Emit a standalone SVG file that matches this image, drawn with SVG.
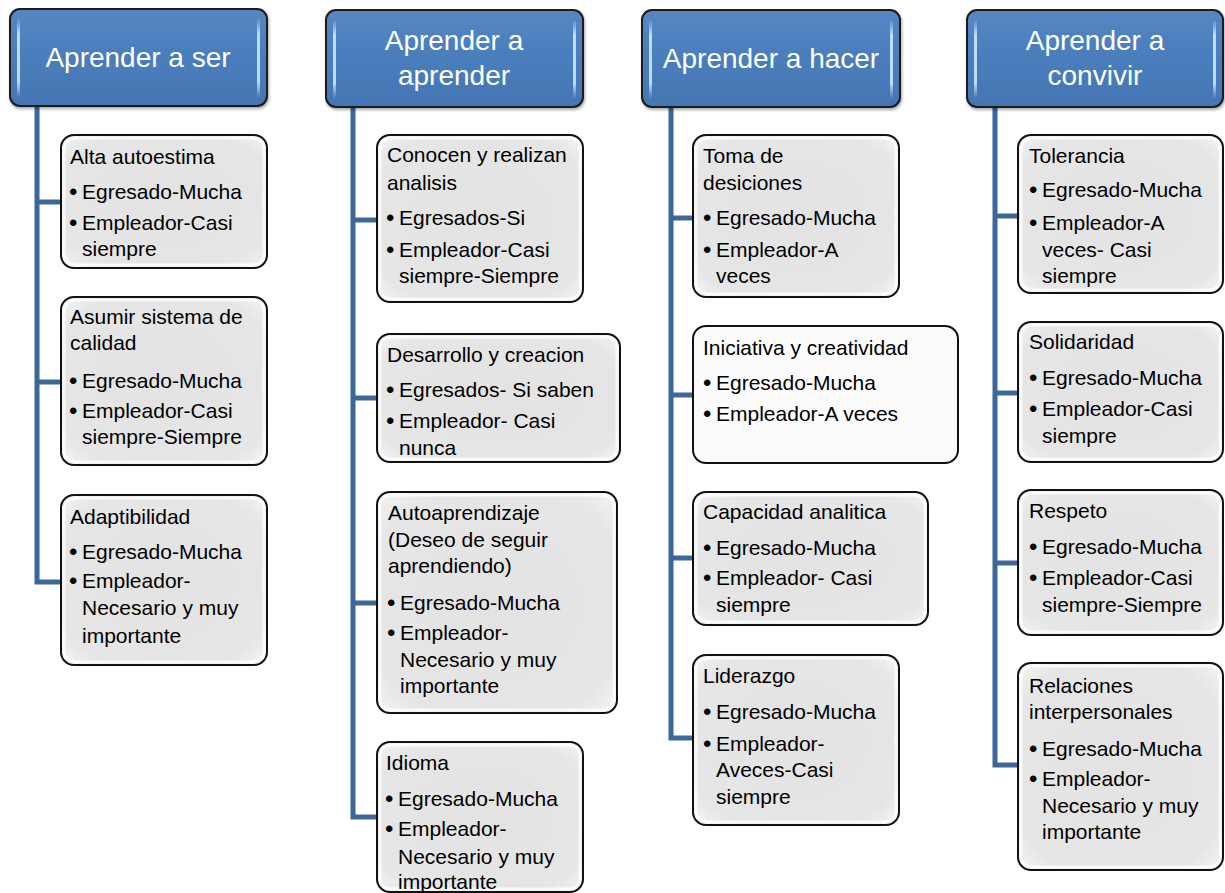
<svg xmlns="http://www.w3.org/2000/svg" width="1225" height="893" viewBox="0 0 1225 893">
<defs>
<linearGradient id="hg" x1="0" y1="0" x2="0" y2="1">
<stop offset="0" stop-color="#5587c4"/>
<stop offset="0.5" stop-color="#4a7dbb"/>
<stop offset="1" stop-color="#4476b4"/>
</linearGradient>
<linearGradient id="strip" x1="0" y1="0" x2="0" y2="1">
<stop offset="0" stop-color="#c9e6fb" stop-opacity="0"/>
<stop offset="0.2" stop-color="#c9e6fb" stop-opacity="0.9"/>
<stop offset="0.8" stop-color="#c9e6fb" stop-opacity="0.9"/>
<stop offset="1" stop-color="#c9e6fb" stop-opacity="0"/>
</linearGradient>
<radialGradient id="bg" cx="0.5" cy="0.5" r="0.7">
<stop offset="0" stop-color="#e3e3e3"/>
<stop offset="0.8" stop-color="#e6e6e6"/>
<stop offset="1" stop-color="#f4f4f4"/>
</radialGradient>
<filter id="sh" x="-10%" y="-10%" width="125%" height="130%">
<feDropShadow dx="1" dy="2" stdDeviation="1.5" flood-color="#000" flood-opacity="0.35"/>
</filter>
</defs>
<style>
.hdr{fill:url(#hg);stroke:#1a1a1a;stroke-width:2}
.hs{fill:url(#strip)}
.ht{font-family:"Liberation Sans",Arial,sans-serif;font-size:28px;fill:#ffffff;text-anchor:middle}
.box{fill:url(#bg);stroke:#111;stroke-width:2}
.boxw{fill:#fbfbfb;stroke:#111;stroke-width:2}
.inner{fill:none;stroke:#ffffff;stroke-width:3;stroke-opacity:0.75}
.t{font-family:"Liberation Sans",Arial,sans-serif;font-size:21px;fill:#000}
.b{font-family:"Liberation Sans",Arial,sans-serif;font-size:24px;fill:#000}
.con{fill:none;stroke:#3d6699;stroke-width:5;stroke-linejoin:miter}
</style>

<g id="connectors">
<path class="con" d="M37,106 V582 H61 M37,202 H61 M37,382 H61"/>
<path class="con" d="M353,107 V817 H377 M353,220 H377 M353,398 H377 M353,603 H377"/>
<path class="con" d="M671,107 V738 H693 M671,218 H693 M671,395 H693 M671,558 H693"/>
<path class="con" d="M995,107 V765 H1018 M995,216 H1018 M995,393 H1018 M995,563 H1018"/>
</g>

<g id="h1">
<rect class="hdr" x="10" y="9" width="257" height="97" rx="10" filter="url(#sh)"/>
<rect class="hs" x="17" y="18" width="3" height="80" rx="1.5"/>
<rect class="hs" x="257" y="18" width="3" height="80" rx="1.5"/>
<text class="ht" x="138" y="67">Aprender a ser</text>
</g>
<g id="h2">
<rect class="hdr" x="326" y="10" width="257" height="97" rx="10" filter="url(#sh)"/>
<rect class="hs" x="333" y="19" width="3" height="80" rx="1.5"/>
<rect class="hs" x="573" y="19" width="3" height="80" rx="1.5"/>
<text class="ht" x="454" y="50">Aprender a</text>
<text class="ht" x="454" y="85">aprender</text>
</g>
<g id="h3">
<rect class="hdr" x="642" y="10" width="258" height="97" rx="10" filter="url(#sh)"/>
<rect class="hs" x="649" y="19" width="3" height="80" rx="1.5"/>
<rect class="hs" x="890" y="19" width="3" height="80" rx="1.5"/>
<text class="ht" x="771" y="68">Aprender a hacer</text>
</g>
<g id="h4">
<rect class="hdr" x="967" y="10" width="256" height="97" rx="10" filter="url(#sh)"/>
<rect class="hs" x="974" y="19" width="3" height="80" rx="1.5"/>
<rect class="hs" x="1213" y="19" width="3" height="80" rx="1.5"/>
<text class="ht" x="1095" y="50">Aprender a</text>
<text class="ht" x="1095" y="85">convivir</text>
</g>

<!-- Column 1 -->
<g id="n1a">
<rect class="box" x="61" y="135" width="206" height="133" rx="13"/>
<rect class="inner" x="64" y="138" width="200" height="127" rx="11"/>
<text class="t" x="70" y="164">Alta autoestima</text>
<text class="b" x="69" y="200">•</text><text class="t" x="82" y="199">Egresado-Mucha</text>
<text class="b" x="69" y="231">•</text><text class="t" x="82" y="230">Empleador-Casi</text>
<text class="t" x="82" y="256">siempre</text>
</g>
<g id="n1b">
<rect class="box" x="61" y="297" width="206" height="168" rx="13"/>
<rect class="inner" x="64" y="300" width="200" height="162" rx="11"/>
<text class="t" x="70" y="324">Asumir sistema de</text>
<text class="t" x="70" y="350">calidad</text>
<text class="b" x="69" y="389">•</text><text class="t" x="82" y="388">Egresado-Mucha</text>
<text class="b" x="69" y="419">•</text><text class="t" x="82" y="418">Empleador-Casi</text>
<text class="t" x="82" y="444">siempre-Siempre</text>
</g>
<g id="n1c">
<rect class="box" x="61" y="495" width="206" height="170" rx="13"/>
<rect class="inner" x="64" y="498" width="200" height="164" rx="11"/>
<text class="t" x="70" y="524">Adaptibilidad</text>
<text class="b" x="69" y="560">•</text><text class="t" x="82" y="559">Egresado-Mucha</text>
<text class="b" x="69" y="589">•</text><text class="t" x="82" y="588">Empleador-</text>
<text class="t" x="82" y="615">Necesario y muy</text>
<text class="t" x="82" y="643">importante</text>
</g>

<!-- Column 2 -->
<g id="n2a">
<rect class="box" x="377" y="135" width="206" height="167" rx="13"/>
<rect class="inner" x="380" y="138" width="200" height="161" rx="11"/>
<text class="t" x="387" y="162">Conocen y realizan</text>
<text class="t" x="387" y="190">analisis</text>
<text class="b" x="386" y="226">•</text><text class="t" x="399" y="225">Egresados-Si</text>
<text class="b" x="386" y="258">•</text><text class="t" x="399" y="257">Empleador-Casi</text>
<text class="t" x="399" y="283">siempre-Siempre</text>
</g>
<g id="n2b">
<rect class="box" x="377" y="334" width="243" height="128" rx="13"/>
<rect class="inner" x="380" y="337" width="237" height="122" rx="11"/>
<text class="t" x="387" y="362">Desarrollo y creacion</text>
<text class="b" x="386" y="398">•</text><text class="t" x="399" y="397">Egresados- Si saben</text>
<text class="b" x="386" y="429">•</text><text class="t" x="399" y="428">Empleador- Casi</text>
<text class="t" x="399" y="455">nunca</text>
</g>
<g id="n2c">
<rect class="box" x="377" y="492" width="240" height="221" rx="13"/>
<rect class="inner" x="380" y="495" width="234" height="215" rx="11"/>
<text class="t" x="388" y="520">Autoaprendizaje</text>
<text class="t" x="388" y="547">(Deseo de seguir</text>
<text class="t" x="388" y="573">aprendiendo)</text>
<text class="b" x="387" y="611">•</text><text class="t" x="400" y="610">Egresado-Mucha</text>
<text class="b" x="387" y="641">•</text><text class="t" x="400" y="640">Empleador-</text>
<text class="t" x="400" y="667">Necesario y muy</text>
<text class="t" x="400" y="693">importante</text>
</g>
<g id="n2d">
<rect class="box" x="377" y="742" width="206" height="150" rx="13"/>
<rect class="inner" x="380" y="745" width="200" height="144" rx="11"/>
<text class="t" x="386" y="770">Idioma</text>
<text class="b" x="385" y="807">•</text><text class="t" x="398" y="806">Egresado-Mucha</text>
<text class="b" x="385" y="837">•</text><text class="t" x="398" y="836">Empleador-</text>
<text class="t" x="398" y="864">Necesario y muy</text>
<text class="t" x="398" y="889">importante</text>
</g>

<!-- Column 3 -->
<g id="n3a">
<rect class="box" x="693" y="135" width="206" height="162" rx="13"/>
<rect class="inner" x="696" y="138" width="200" height="156" rx="11"/>
<text class="t" x="703" y="163">Toma de</text>
<text class="t" x="703" y="190">desiciones</text>
<text class="b" x="703" y="226">•</text><text class="t" x="716" y="225">Egresado-Mucha</text>
<text class="b" x="703" y="258">•</text><text class="t" x="716" y="257">Empleador-A</text>
<text class="t" x="716" y="283">veces</text>
</g>
<g id="n3b">
<rect class="boxw" x="693" y="326" width="265" height="137" rx="13"/>
<text class="t" x="703" y="355">Iniciativa y creatividad</text>
<text class="b" x="703" y="391">•</text><text class="t" x="716" y="390">Egresado-Mucha</text>
<text class="b" x="703" y="422">•</text><text class="t" x="716" y="421">Empleador-A veces</text>
</g>
<g id="n3c">
<rect class="box" x="693" y="492" width="235" height="133" rx="13"/>
<rect class="inner" x="696" y="495" width="229" height="127" rx="11"/>
<text class="t" x="703" y="519">Capacidad analitica</text>
<text class="b" x="703" y="556">•</text><text class="t" x="716" y="555">Egresado-Mucha</text>
<text class="b" x="703" y="586">•</text><text class="t" x="716" y="585">Empleador- Casi</text>
<text class="t" x="716" y="612">siempre</text>
</g>
<g id="n3d">
<rect class="box" x="693" y="655" width="206" height="170" rx="13"/>
<rect class="inner" x="696" y="658" width="200" height="164" rx="11"/>
<text class="t" x="703" y="683">Liderazgo</text>
<text class="b" x="703" y="720">•</text><text class="t" x="716" y="719">Egresado-Mucha</text>
<text class="b" x="703" y="752">•</text><text class="t" x="716" y="751">Empleador-</text>
<text class="t" x="716" y="777">Aveces-Casi</text>
<text class="t" x="716" y="804">siempre</text>
</g>

<!-- Column 4 -->
<g id="n4a">
<rect class="box" x="1018" y="135" width="205" height="158" rx="13"/>
<rect class="inner" x="1021" y="138" width="199" height="152" rx="11"/>
<text class="t" x="1029" y="163">Tolerancia</text>
<text class="b" x="1029" y="198">•</text><text class="t" x="1042" y="197">Egresado-Mucha</text>
<text class="b" x="1029" y="231">•</text><text class="t" x="1042" y="230">Empleador-A</text>
<text class="t" x="1042" y="257">veces- Casi</text>
<text class="t" x="1042" y="283">siempre</text>
</g>
<g id="n4b">
<rect class="box" x="1018" y="322" width="205" height="140" rx="13"/>
<rect class="inner" x="1021" y="325" width="199" height="134" rx="11"/>
<text class="t" x="1029" y="349">Solidaridad</text>
<text class="b" x="1029" y="386">•</text><text class="t" x="1042" y="385">Egresado-Mucha</text>
<text class="b" x="1029" y="417">•</text><text class="t" x="1042" y="416">Empleador-Casi</text>
<text class="t" x="1042" y="443">siempre</text>
</g>
<g id="n4c">
<rect class="box" x="1018" y="490" width="205" height="145" rx="13"/>
<rect class="inner" x="1021" y="493" width="199" height="139" rx="11"/>
<text class="t" x="1029" y="518">Respeto</text>
<text class="b" x="1029" y="555">•</text><text class="t" x="1042" y="554">Egresado-Mucha</text>
<text class="b" x="1029" y="586">•</text><text class="t" x="1042" y="585">Empleador-Casi</text>
<text class="t" x="1042" y="612">siempre-Siempre</text>
</g>
<g id="n4d">
<rect class="box" x="1018" y="663" width="205" height="207" rx="13"/>
<rect class="inner" x="1021" y="666" width="199" height="201" rx="11"/>
<text class="t" x="1029" y="693">Relaciones</text>
<text class="t" x="1029" y="719">interpersonales</text>
<text class="b" x="1029" y="757">•</text><text class="t" x="1042" y="756">Egresado-Mucha</text>
<text class="b" x="1029" y="787">•</text><text class="t" x="1042" y="786">Empleador-</text>
<text class="t" x="1042" y="813">Necesario y muy</text>
<text class="t" x="1042" y="839">importante</text>
</g>
</svg>
